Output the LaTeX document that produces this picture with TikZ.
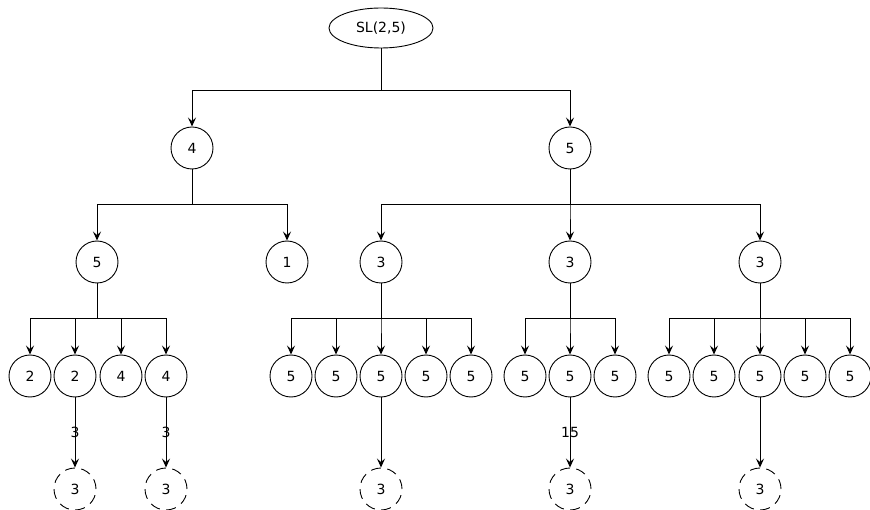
\documentclass[tikz,border=0pt]{standalone}
\usepackage{fontspec}
\setmainfont{DejaVu Sans}
\usetikzlibrary{arrows.meta,shapes.geometric}
\begin{document}
\begin{tikzpicture}[x=1pt,y=-1pt,
  font=\fontsize{14}{16}\selectfont,
  every node/.style={inner sep=0pt},
  grp/.style={draw,line width=0.9pt,ellipse,minimum width=104pt,minimum height=40pt},
  sub/.style={draw,line width=0.9pt,circle,minimum size=42pt},
  conj/.style={draw,line width=0.9pt,circle,dash pattern=on 10pt off 6.5pt,minimum size=42pt},
  edge/.style={draw,line width=0.9pt,-{Stealth[length=9pt,width=8pt,inset=3.5pt]}},
  elabel/.style={fill=none,inner sep=1pt}]
\useasboundingbox (0,0) rectangle (870,510);

% root
\node[grp] (r) at (381,28) {SL(2,5)};
% level 1
\node[sub] (a) at (192,148) {4};
\node[sub] (b) at (570,148) {5};
% level 2
\node[sub] (a1) at (97,262) {5};
\node[sub] (a2) at (287,262) {1};
\node[sub] (b1) at (381,262) {3};
\node[sub] (b2) at (570,262) {3};
\node[sub] (b3) at (760,262) {3};
% level 3
\node[sub] (c1) at (30,376) {2};
\node[sub] (c2) at (75,376) {2};
\node[sub] (c3) at (121,376) {4};
\node[sub] (c4) at (166,376) {4};
\node[sub] (d1) at (291,376) {5};
\node[sub] (d2) at (336,376) {5};
\node[sub] (d3) at (381,376) {5};
\node[sub] (d4) at (426,376) {5};
\node[sub] (d5) at (471,376) {5};
\node[sub] (e1) at (525,376) {5};
\node[sub] (e2) at (570,376) {5};
\node[sub] (e3) at (615,376) {5};
\node[sub] (f1) at (669,376) {5};
\node[sub] (f2) at (714,376) {5};
\node[sub] (f3) at (760,376) {5};
\node[sub] (f4) at (805,376) {5};
\node[sub] (f5) at (850,376) {5};
% level 4
\node[conj] (g1) at (75,489) {3};
\node[conj] (g2) at (166,489) {3};
\node[conj] (g3) at (381,489) {3};
\node[conj] (g4) at (570,489) {3};
\node[conj] (g5) at (760,489) {3};

% tree connectors: down to a bar, across, down to the child
\foreach \p/\c/\y in {r/a/90, r/b/90,
    a/a1/204, a/a2/204, b/b1/204, b/b2/204, b/b3/204,
    a1/c1/318, a1/c2/318, a1/c3/318, a1/c4/318,
    b1/d1/318, b1/d2/318, b1/d3/318, b1/d4/318, b1/d5/318,
    b2/e1/318, b2/e2/318, b2/e3/318,
    b3/f1/318, b3/f2/318, b3/f3/318, b3/f4/318, b3/f5/318}
  \path[edge] (\p.south) -- (\p.south |- 0,\y) -| (\c.north);

% conjugacy connectors
\path[edge] (c2) -- node[elabel]{3} (g1);
\path[edge] (c4) -- node[elabel]{3} (g2);
\path[edge] (d3) -- (g3);
\path[edge] (e2) -- node[elabel]{15} (g4);
\path[edge] (f3) -- (g5);
\end{tikzpicture}
\end{document}
